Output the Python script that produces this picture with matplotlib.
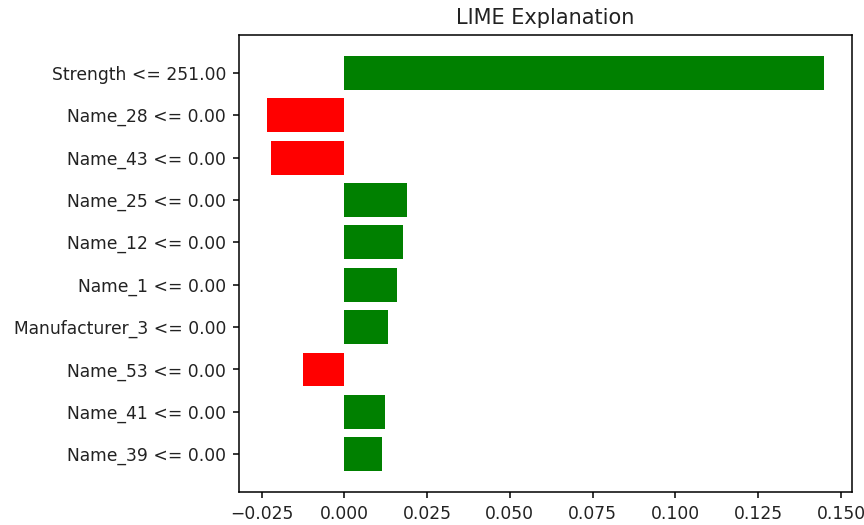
import matplotlib
matplotlib.use("Agg")
import matplotlib.pyplot as plt

# LIME feature weights, listed bottom to top as barh draws them
features = [
    'Name_39 <= 0.00',
    'Name_41 <= 0.00',
    'Name_53 <= 0.00',
    'Manufacturer_3 <= 0.00',
    'Name_1 <= 0.00',
    'Name_12 <= 0.00',
    'Name_25 <= 0.00',
    'Name_43 <= 0.00',
    'Name_28 <= 0.00',
    'Strength <= 251.00',
]
weights = [0.0114, 0.0122, -0.0124, 0.0132, 0.0158, 0.0178, 0.0188, -0.0222, -0.0233, 0.1449]


def main():
    plt.rcParams['font.size'] = 12.3
    plt.rcParams['axes.linewidth'] = 1.1
    for ax_name in ('xtick', 'ytick'):
        plt.rcParams[ax_name + '.major.size'] = 4.5
        plt.rcParams[ax_name + '.major.width'] = 1.1
        plt.rcParams[ax_name + '.major.pad'] = 5
    plt.rcParams['text.color'] = '#222222'
    plt.rcParams['xtick.labelcolor'] = '#222222'
    plt.rcParams['ytick.labelcolor'] = '#222222'

    fig, ax = plt.subplots(figsize=(8.64, 5.25), dpi=100)

    colors = ['green' if w > 0 else 'red' for w in weights]
    pos = range(len(weights))
    ax.barh(pos, weights, align='center', color=colors)
    ax.set_yticks(list(pos))
    ax.set_yticklabels(features)
    ax.set_title('LIME Explanation', fontsize=15, pad=8)

    fig.subplots_adjust(left=0.277, right=0.986, top=0.933, bottom=0.063)
    fig.savefig('out.png')


if __name__ == "__main__":
    main()
